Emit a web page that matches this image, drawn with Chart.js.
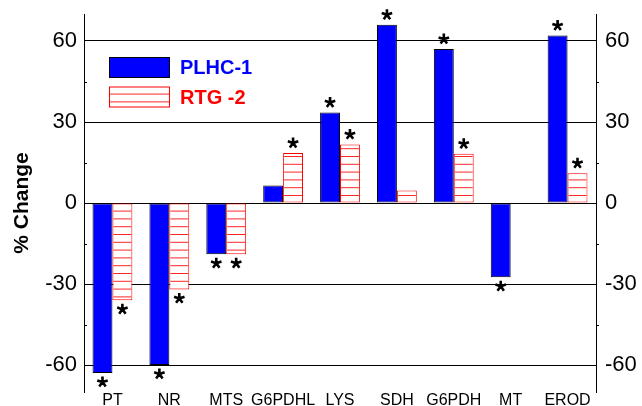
<!DOCTYPE html>
<html lang="en">
<head>
<meta charset="UTF-8" />
<title>% Change PLHC-1 / RTG-2</title>
<script src="https://cdn.jsdelivr.net/npm/chart.js"></script>
<style>
  html,body { margin:0; padding:0; background:#fff; }
  #box      { width:642px; height:406px; }
</style>
</head>
<body>
<div id="box"><canvas id="chg"></canvas></div>
<script>
  /* ---------- data ---------- */
  const categories = ['PT','NR','MTS','G6PDHL','LYS','SDH','G6PDH','MT','EROD'];
  const plhc1      = [-63, -60, -19, 6.5, 33.5, 66, 57, -27.5, 62];
  const rtg2       = [-36, -32, -19, 18.5, 21.7, 4.6, 18.2, null, 11];
  const starPlhc   = [1, 1, 1, 0, 1, 1, 1, 1, 1];   // significance marks
  const starRtg    = [1, 1, 1, 1, 1, 0, 1, 0, 1];
  const yTicks     = [-60, -45, -30, -15, 0, 15, 30, 45, 60];
  const yMin = -70, yMax = 70;

  const FONT = "'Liberation Sans', Arial, Helvetica, sans-serif";
  Chart.defaults.font.family = FONT;
  Chart.defaults.color = '#000';

  /* ---------- helpers ---------- */
  const canvas = document.getElementById('chg');
  const HATCH = 7.8;

  // horizontal red lines inside a rectangle
  function hatchRect(ctx, l, t, r, b) {
    ctx.save();
    ctx.beginPath(); ctx.rect(l + 1, t + 1, r - l - 2, b - t - 2); ctx.clip();
    ctx.strokeStyle = 'rgba(255,0,0,0.85)'; ctx.lineWidth = 1;
    ctx.beginPath();
    for (let y = Math.ceil(t / HATCH) * HATCH; y < b; y += HATCH) {
      ctx.moveTo(l, y + 0.5); ctx.lineTo(r, y + 0.5);
    }
    ctx.stroke();
    ctx.restore();
  }

  function drawStar(ctx, x, y) {
    ctx.save();
    ctx.strokeStyle = '#000'; ctx.lineWidth = 2.6;
    ctx.beginPath();
    for (let k = 0; k < 5; k++) {
      const a = -Math.PI / 2 + k * 2 * Math.PI / 5;
      ctx.moveTo(x, y);
      ctx.lineTo(x + 5.5 * Math.cos(a), y + 5.5 * Math.sin(a));
    }
    ctx.stroke();
    ctx.restore();
  }

  const hatching = {
    id: 'hatching',
    afterDatasetDraw(chart, args) {
      if (!chart.data.datasets[args.index].hatched) return;
      args.meta.data.forEach((bar, i) => {
        if (chart.data.datasets[args.index].data[i] == null) return;
        const { x, y, base, width } = bar.getProps(['x', 'y', 'base', 'width'], true);
        hatchRect(chart.ctx, x - width / 2, Math.min(y, base), x + width / 2, Math.max(y, base));
      });
    }
  };

  const stars = {
    id: 'stars',
    afterDatasetsDraw(chart) {
      [starPlhc, starRtg].forEach((flags, di) => {
        chart.getDatasetMeta(di).data.forEach((bar, i) => {
          const v = chart.data.datasets[di].data[i];
          if (!flags[i] || v == null) return;
          drawStar(chart.ctx, bar.x, v >= 0 ? bar.y - 10 : bar.y + 9);
        });
      });
    }
  };

  // small unlabelled ticks at ±15, ±45 on both axes
  const minorTicks = {
    id: 'minorTicks',
    afterDraw(chart) {
      const ctx = chart.ctx, y = chart.scales.y, a = chart.chartArea;
      ctx.save(); ctx.strokeStyle = '#000'; ctx.lineWidth = 1;
      ctx.beginPath();
      yTicks.filter(v => v % 30 !== 0).forEach(v => {
        const py = Math.round(y.getPixelForValue(v)) + 0.5;
        [a.left, a.right].forEach(px => { ctx.moveTo(px, py); ctx.lineTo(px + 3, py); });
      });
      ctx.stroke(); ctx.restore();
    }
  };

  const boxLegend = {
    id: 'boxLegend',
    afterDatasetsDraw(chart) {
      const ctx = chart.ctx;
      chart.data.datasets.forEach((ds, i) => {
        const x = 109, yy = 57 + i * 29.5, w = 61, h = 21;
        ctx.save();
        ctx.fillStyle = ds.backgroundColor; ctx.fillRect(x, yy, w, h);
        if (ds.hatched) hatchRect(ctx, x, yy, x + w, yy + h);
        ctx.strokeStyle = ds.borderColor; ctx.lineWidth = 1;
        ctx.strokeRect(x + 0.5, yy + 0.5, w - 1, h - 1);
        ctx.fillStyle = ds.textColor;
        ctx.font = 'bold 20px ' + FONT; ctx.textBaseline = 'middle';
        ctx.fillText(ds.label, 180, yy + h / 2 + 1);
        ctx.restore();
      });
    }
  };

  const setTicks = s => { s.ticks = yTicks.map(v => ({ value: v })); };
  const major = v => (v % 30 === 0 ? v : '');
  const noPad = s => { s.paddingTop = 0; s.paddingBottom = 0; };

  new Chart(canvas, {
    type: 'bar',
    data: {
      labels: categories,
      datasets: [
        { label: 'PLHC-1', data: plhc1, backgroundColor: '#0000ff', borderColor: '#000',
          borderWidth: 1, borderSkipped: false, textColor: '#0000ff' },
        { label: 'RTG -2', data: rtg2, backgroundColor: '#fff', borderColor: '#ff0000',
          borderWidth: 1, borderSkipped: false, textColor: '#ff0000', hatched: true }
      ]
    },
    options: {
      responsive: true, maintainAspectRatio: false, animation: false,
      layout: { padding: { top: 14, left: 0, right: 0, bottom: 0 } },
      datasets: { bar: { categoryPercentage: 0.7, barPercentage: 1.0 } },
      plugins: { legend: { display: false }, tooltip: { enabled: false } },
      scales: {
        x: {
          grid: { display: false, drawTicks: false }, border: { display: false },
          ticks: { font: { size: 16 }, padding: -1, maxRotation: 0, autoSkip: false },
          afterFit: s => { s.height = 14; s.paddingLeft = 0; s.paddingRight = 0; }
        },
        y: {
          position: 'left', min: yMin, max: yMax,
          afterBuildTicks: setTicks,
          ticks: { font: { size: 22 }, padding: 7, callback: major },
          grid: { drawTicks: false,
                  color: c => (c.tick && c.tick.value % 30 === 0 ? '#000' : 'rgba(0,0,0,0)') },
          border: { display: true, color: '#000', width: 1 },
          title: { display: true, text: '% Change', font: { size: 21, weight: 'bold' },
                   padding: { top: 10, bottom: 0 } },
          afterFit: s => { s.width = 84; noPad(s); }
        },
        y2: {
          position: 'right', min: yMin, max: yMax,
          afterBuildTicks: setTicks,
          ticks: { font: { size: 22 }, padding: 9, callback: major },
          grid: { display: false, drawTicks: false },
          border: { display: true, color: '#000', width: 1 },
          afterFit: s => { s.width = 46; noPad(s); }
        }
      }
    },
    plugins: [hatching, stars, minorTicks, boxLegend]
  });
</script>
</body>
</html>
